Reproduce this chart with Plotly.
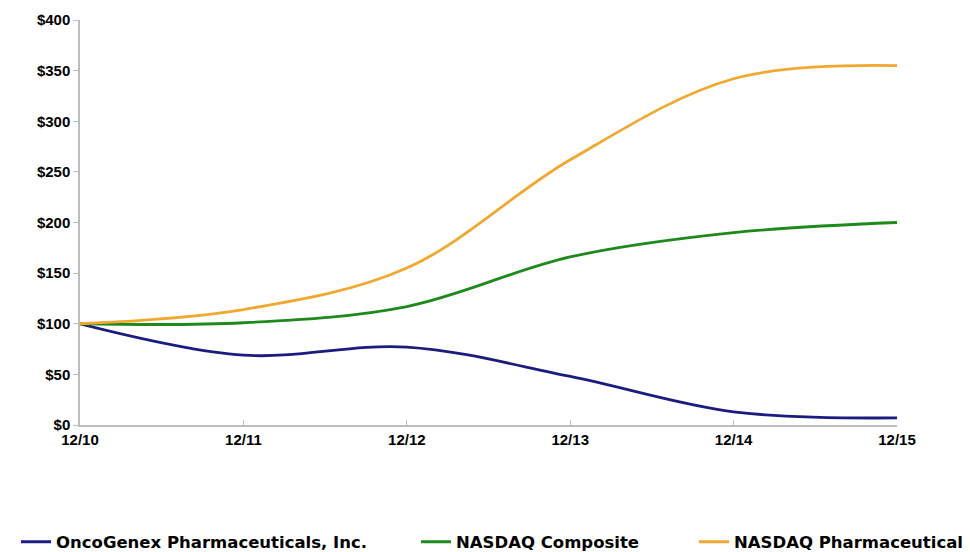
import plotly.graph_objects as go

periods = ["12/10", "12/11", "12/12", "12/13", "12/14", "12/15"]
oncogenex = [100, 69, 77, 48, 13, 7]
nasdaq_composite = [100, 101, 117, 166, 190, 200]
nasdaq_pharma = [100, 114, 155, 262, 342, 355]
y_ticks = [0, 50, 100, 150, 200, 250, 300, 350, 400]
y_labels = ["$" + str(v) for v in y_ticks]

names = ["OncoGenex Pharmaceuticals, Inc.", "NASDAQ Composite", "NASDAQ Pharmaceutical"]
colors = ["#1c1c80", "#1e8a1e", "#f0a830"]
series = [oncogenex, nasdaq_composite, nasdaq_pharma]
legends = ["legend", "legend2", "legend3"]

FONT = "Liberation Sans Narrow, Arial Narrow, Liberation Sans, Arial"
LEGFONT = "DejaVu Sans, Liberation Sans, Arial"

fig = go.Figure()
for name, color, vals, lg in zip(names, colors, series, legends):
    fig.add_trace(go.Scatter(
        x=list(range(len(periods))), y=vals, name=name, mode="lines",
        line=dict(color=color, width=2.8, shape="spline", smoothing=1.0),
        legend=lg, showlegend=True,
    ))

W, H = 970, 552
# page has an 8px body margin; compensate so the plot area matches the reference
L, T = 72, 12
PW, PH = 817, 405
R = W - L - PW
B = H - T - PH

legend_common = dict(orientation="h", xref="container", yref="container",
                     yanchor="middle", y=1 - 534 / H, xanchor="left",
                     font=dict(family=LEGFONT, size=16.5, color="#000000", weight="bold"),
                     bgcolor="rgba(0,0,0,0)", borderwidth=0)

fig.update_layout(
    width=W, height=H, showlegend=True,
    margin=dict(l=L, r=R, t=T, b=B, autoexpand=False),
    paper_bgcolor="white", plot_bgcolor="white",
    font=dict(family=FONT, size=14, color="#000000"),
    legend=dict(x=8 / W, **legend_common),
    legend2=dict(x=408 / W, **legend_common),
    legend3=dict(x=686 / W, **legend_common),
    xaxis=dict(
        range=[0, 5], tickmode="array", tickvals=list(range(len(periods))), ticktext=periods,
        showgrid=False, zeroline=False, showline=True, linecolor="#bdbdbd", linewidth=1.5,
        ticks="inside", ticklen=5, tickcolor="#bdbdbd", tickwidth=1,
        tickfont=dict(family=FONT, size=15, color="#000000", weight="bold"),
    ),
    yaxis=dict(
        range=[0, 400], tickmode="array", tickvals=y_ticks, ticktext=y_labels,
        showgrid=False, zeroline=False, showline=True, linecolor="#bdbdbd", linewidth=1.5,
        ticks="outside", ticklen=5, tickcolor="#bdbdbd", tickwidth=1,
        tickfont=dict(family=FONT, size=15, color="#000000", weight="bold"),
    ),
)

fig.write_html("out.html")
